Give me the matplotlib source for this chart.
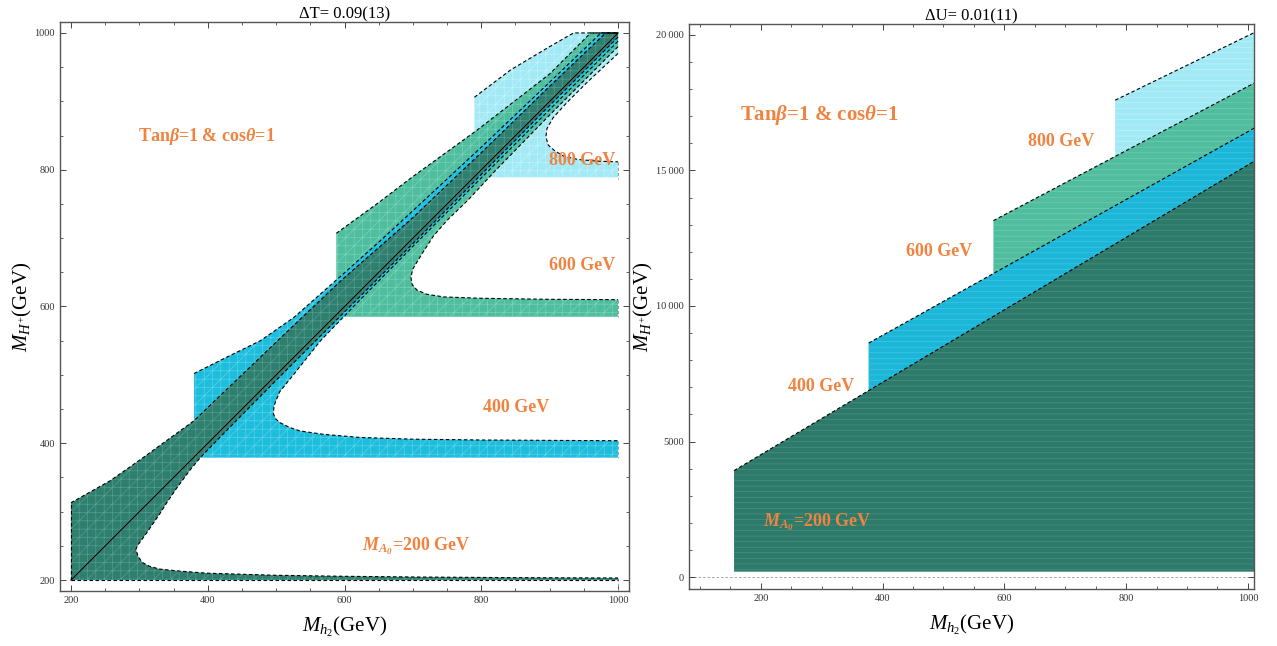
import matplotlib
matplotlib.use("Agg")
import matplotlib.pyplot as plt
from matplotlib.ticker import MultipleLocator, FixedLocator, FixedFormatter

plt.rcParams.update({
    "font.family": ["Liberation Serif", "DejaVu Serif"],
    "mathtext.fontset": "custom",
    "mathtext.rm": "Liberation Serif",
    "mathtext.it": "Liberation Serif:italic",
    "mathtext.bf": "Liberation Serif:italic:bold",
    "hatch.linewidth": 0.45,
})

# ---------------- Delta T panel: allowed regions for each M_A0 ----------------
# each region: left cut x0, bottom cut y0, outer (upper) boundary, inner boundary
T_x0 = {200: 200, 400: 380, 600: 588, 800: 790}
T_y0 = {200: 200, 400: 379, 600: 585, 800: 789}

T_upper_x = {
    200: [200, 257, 300, 380, 500, 594, 700, 800, 900, 982],
    400: [380, 428, 477, 526, 594, 650, 700, 800, 900, 975],
    600: [588, 650, 700, 794, 900, 960],
    800: [790, 843, 900, 935],
}
T_upper_y = {
    200: [313, 345, 375, 433, 548, 637, 730, 825, 922, 1000],
    400: [502, 526, 550, 584, 644, 694, 740, 833, 928, 1000],
    600: [707, 752, 790, 858, 940, 1000],
    800: [906, 946, 980, 1000],
}
T_inner_x = {
    200: [1000, 900, 800, 700, 600, 500, 420, 390, 375, 355, 340, 330, 310, 297,
          295, 298, 304, 315, 330, 360, 400, 500, 600, 700, 850, 1000],
    400: [1000, 900, 800, 700, 620, 565, 526, 505, 497, 496, 500, 506, 520, 535,
          570, 623, 700, 800, 1000],
    600: [1000, 900, 820, 780, 750, 730, 712, 700, 697, 699, 706, 720, 745, 800,
          900, 1000],
    800: [1000, 955, 925, 905, 896, 894.5, 898, 907, 920, 941, 970, 1000],
}
T_inner_y = {
    200: [994, 894, 793, 692, 592, 492, 411, 380, 362, 335, 313, 297, 268, 250,
          245, 235, 226, 220, 216, 213, 210, 207, 205.5, 204.5, 203.5, 203],
    400: [988, 888, 788, 688, 607, 550, 501, 475, 455, 443, 435, 430, 423, 418,
          413, 408.5, 406, 404.8, 403.7],
    600: [980, 880, 798, 755, 726, 703, 675, 655, 643, 632, 624, 618, 614, 612,
          610.5, 610],
    800: [970, 928, 898, 876, 860, 848, 836, 828, 820, 815, 812.5, 811.5],
}

# ---------------- Delta U panel: straight upper boundaries ----------------
U_x0 = {200: 156, 400: 377, 600: 582, 800: 782}
U_y0 = {200: 200, 400: 380, 600: 585, 800: 790}
U_upper_x = {200: [156, 1012], 400: [377, 1012], 600: [582, 1012], 800: [782, 1012]}
U_upper_y = {200: [3926, 15360], 400: [8630, 16580], 600: [13148, 18240],
             800: [17590, 20100]}

masses = [800, 600, 400, 200]          # drawing order, heaviest first
fill_T = {200: "#2e7f6f", 400: "#1cbddd", 600: "#4ebe9f", 800: "#a2e9f6"}
mesh_T = {200: "#5a9f90", 400: "#5fd2e8", 600: "#7fd2ba", 800: "#c8f2fa"}
fill_U = {200: "#2e7a6a", 400: "#1bb6d8", 600: "#50bd9e", 800: "#a2e9f6"}
mesh_U = {200: "#4f9383", 400: "#4cc7e2", 600: "#79cdb4", 800: "#c4f1f9"}

labels_T = {800: (899, 814), 600: (899, 660), 400: (803, 452), 200: (626, 250)}
labels_U = {800: (638, 16074), 600: (439, 12000), 400: (244, 7037), 200: (203, 2037)}

ORANGE = "#f0833f"
DASH = (0, (3.2, 2.2))


def mass_label(m):
    if m == 200:
        return r"$\mathbf{M_{A_0}}$=200 GeV"
    return f"{m} GeV"


def style_axes(ax):
    for s in ax.spines.values():
        s.set_linewidth(1.0)
        s.set_color("#555555")
    ax.tick_params(which="both", direction="in", top=True, right=True,
                   colors="#444444", labelsize=7.5, labelcolor="#333333")
    ax.tick_params(which="major", length=4, width=0.7)
    ax.tick_params(which="minor", length=2.2, width=0.6)


fig = plt.figure(figsize=(12.77, 6.46), dpi=100)
axL = fig.add_axes([60 / 1277, 1 - 591 / 646, 569 / 1277, 569 / 646])
axR = fig.add_axes([689 / 1277, 1 - 589 / 646, 565 / 1277, 565 / 646])

# ---- left panel ----
for m in masses:
    x0, y0 = T_x0[m], T_y0[m]
    xs = [x0, x0] + T_upper_x[m] + [1000] + T_inner_x[m] + [1000]
    ys = [y0, T_upper_y[m][0]] + T_upper_y[m] + [1000] + T_inner_y[m] + [y0]
    axL.fill(xs, ys, facecolor=fill_T[m], edgecolor=mesh_T[m], lw=0,
             hatch="++//", zorder=2)

for m in masses:
    ux = T_upper_x[m] + ([1000] if T_upper_y[m][-1] >= 1000 else [])
    uy = T_upper_y[m] + ([1000] if T_upper_y[m][-1] >= 1000 else [])
    axL.plot(ux, uy, color="black", lw=0.8, ls=DASH, zorder=4)
    axL.plot(T_inner_x[m], T_inner_y[m], color="black", lw=0.8, ls=DASH, zorder=4)
    axL.plot([1000, 1000], [T_inner_y[m][-1], T_inner_y[m][-1] - 25],
             color="#999999", lw=0.7, ls=DASH, zorder=4)

axL.plot([T_x0[200]] * 2, [T_y0[200], T_upper_y[200][0]], color="black", lw=0.8,
         ls=DASH, zorder=4)
axL.plot([T_x0[200], 1000], [T_y0[200]] * 2, color="black", lw=0.8, ls=DASH, zorder=4)
axL.plot([200, 1000], [200, 1000], color="black", lw=0.8, zorder=5)

axL.set_xlim(184, 1016)
axL.set_ylim(184, 1016)
axL.xaxis.set_major_locator(MultipleLocator(200))
axL.xaxis.set_minor_locator(MultipleLocator(50))
axL.yaxis.set_major_locator(MultipleLocator(200))
axL.yaxis.set_minor_locator(MultipleLocator(50))
style_axes(axL)
axL.set_title("ΔT= 0.09(13)", fontsize=12, pad=1.5)
axL.set_xlabel(r"$M_{h_2}$(GeV)", fontsize=15, labelpad=7)
axL.set_ylabel(r"$M_{H^{+}}$(GeV)", fontsize=15, labelpad=0.5)

axL.text(298, 848, r"Tan$\mathbf{\beta}$=1 & cos$\mathbf{\theta}$=1", color=ORANGE,
         fontsize=13, fontweight="bold", ha="left", va="center", zorder=6)
for m, (tx, ty) in labels_T.items():
    axL.text(tx, ty, mass_label(m), color=ORANGE, fontsize=13, fontweight="bold",
             ha="left", va="center", zorder=6)

# ---- right panel ----
for m in masses:
    x0, y0 = U_x0[m], U_y0[m]
    xs = [x0] + U_upper_x[m] + [U_upper_x[m][-1]]
    ys = [y0] + U_upper_y[m] + [y0]
    axR.fill(xs, ys, facecolor=fill_U[m], edgecolor=mesh_U[m], lw=0,
             hatch="---", zorder=2)
for m in masses:
    axR.plot(U_upper_x[m], U_upper_y[m], color="black", lw=0.8, ls=DASH, zorder=4)
axR.axhline(0, color="#9a9a9a", lw=0.6, ls=DASH, zorder=1)

axR.set_xlim(82, 1010)
axR.set_ylim(-440, 20400)
axR.xaxis.set_major_locator(MultipleLocator(200))
axR.xaxis.set_minor_locator(MultipleLocator(50))
y_major = [0, 5000, 10000, 15000, 20000]
y_major_txt = ["0", "5000", "10\u2009000", "15\u2009000", "20\u2009000"]
axR.yaxis.set_major_locator(FixedLocator(y_major))
axR.yaxis.set_major_formatter(FixedFormatter(y_major_txt))
axR.yaxis.set_minor_locator(MultipleLocator(1000))
style_axes(axR)
axR.set_title("ΔU= 0.01(11)", fontsize=12, pad=1.5)
axR.set_xlabel(r"$M_{h_2}$(GeV)", fontsize=15, labelpad=7)
axR.set_ylabel(r"$M_{H^{+}}$(GeV)", fontsize=15, labelpad=1)

axR.text(166, 17037, r"Tan$\mathbf{\beta}$=1 & cos$\mathbf{\theta}$=1", color=ORANGE,
         fontsize=15, fontweight="bold", ha="left", va="center", zorder=6)
for m, (tx, ty) in labels_U.items():
    axR.text(tx, ty, mass_label(m), color=ORANGE, fontsize=13, fontweight="bold",
             ha="left", va="center", zorder=6)

fig.savefig("out.png", dpi=100)
